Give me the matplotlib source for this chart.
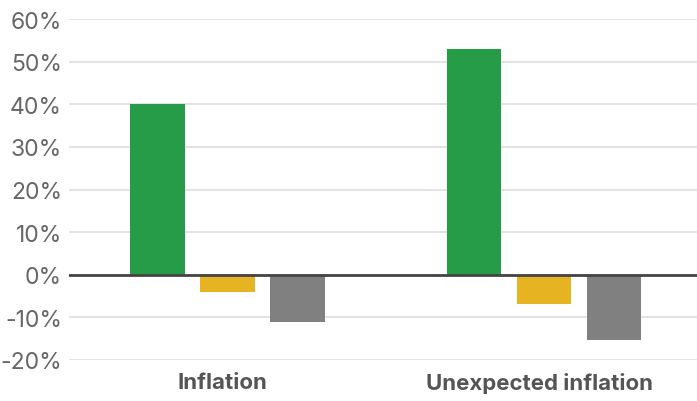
import numpy as np
import matplotlib.pyplot as plt
from matplotlib.ticker import FuncFormatter

categories = ["Inflation", "Unexpected inflation"]
green_vals = [40.1, 53.0]
yellow_vals = [-4.1, -6.9]
gray_vals = [-11.1, -15.2]

colors = ["#279c48", "#e6b422", "#808080"]

plt.rcParams['font.family'] = ['Inter', 'DejaVu Sans']

fig = plt.figure(figsize=(6.97, 4.02), dpi=100)
ax = fig.add_axes([0.099, 0.102, 0.901, 0.848])

x = np.arange(len(categories))
off = 0.221
w = 0.172
for i, vals in enumerate([green_vals, yellow_vals, gray_vals]):
    ax.bar(x + (i - 1) * off, vals, width=w, color=colors[i], zorder=3)

ax.set_ylim(-20, 60)
ax.set_xlim(-0.5, 1.483)
ax.set_yticks(np.arange(-20, 61, 10))
ax.yaxis.set_major_formatter(FuncFormatter(lambda v, p: f"{v:.0f}%"))
ax.grid(axis='y', color='#dddddd', linewidth=1.2, zorder=0)
ax.axhline(0, color='#444444', linewidth=2, zorder=4)

for s in ax.spines.values():
    s.set_visible(False)

ax.tick_params(axis='y', length=0, pad=5, labelsize=16.5, labelcolor='#666666')
ax.set_xticks(x - 0.015)
ax.set_xticklabels(categories, fontsize=16, fontweight='bold', color='#555555')
ax.tick_params(axis='x', length=0, pad=9)

fig.savefig("out.png", dpi=100)
